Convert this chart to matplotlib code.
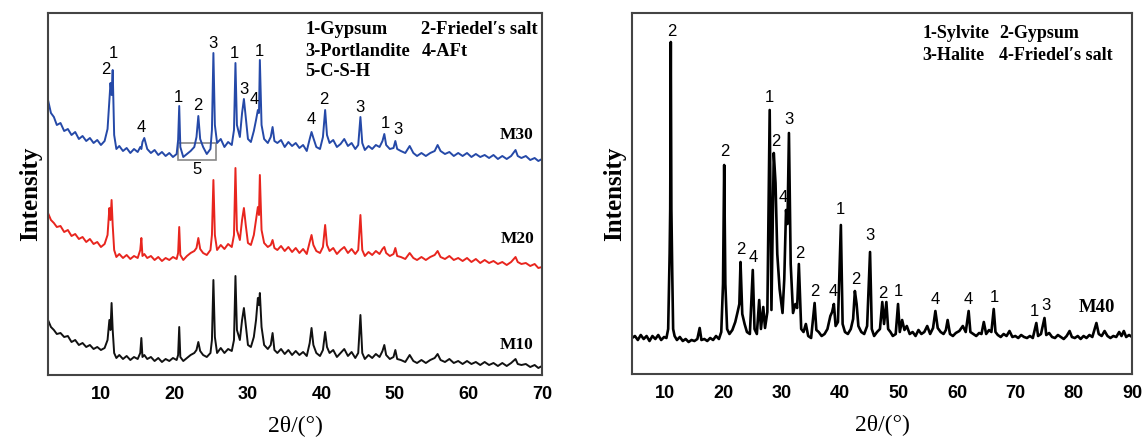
import matplotlib
matplotlib.use("Agg")
import matplotlib.pyplot as plt
from matplotlib.patches import Rectangle

# ---------------- data: left panel (M10, M20, M30) ----------------
two_theta_left = [
    2.8, 3.2, 3.6, 4.0, 4.5, 5.0, 5.5, 6.0, 6.5, 7.0,
    7.5, 8.0, 8.5, 9.0, 9.5, 10.0, 10.5, 10.9, 11.15, 11.3,
    11.45, 11.6, 11.8, 12.1, 12.5, 13.0, 13.5, 14.0, 14.5, 15.0,
    15.35, 15.5, 15.65, 15.9, 16.3, 16.8, 17.3, 17.8, 18.3, 18.8,
    19.3, 19.8, 20.3, 20.5, 20.65, 20.8, 21.2, 21.7, 22.2, 22.7,
    23.0, 23.25, 23.5, 23.9, 24.4, 24.9, 25.1, 25.3, 25.5, 25.8,
    26.3, 26.8, 27.3, 27.8, 28.1, 28.3, 28.5, 28.9, 29.2, 29.45,
    29.7, 30.0, 30.4, 30.8, 31.1, 31.35, 31.5, 31.62, 31.85, 32.2,
    32.7, 33.1, 33.35, 33.6, 34.0, 34.5, 35.0, 35.5, 36.0, 36.5,
    37.0, 37.5, 38.0, 38.4, 38.65, 38.9, 39.3, 39.8, 40.2, 40.5,
    40.75, 41.1, 41.6, 42.1, 42.6, 43.1, 43.6, 44.1, 44.6, 45.0,
    45.3, 45.55, 45.9, 46.4, 46.9, 47.4, 47.9, 48.3, 48.55, 48.8,
    49.3, 49.8, 50.05, 50.3, 50.8, 51.4, 52.0, 52.5, 53.0, 53.6,
    54.2, 54.8, 55.4, 55.8, 56.2, 56.8, 57.4, 58.0, 58.6, 59.2,
    59.8, 60.4, 61.0, 61.6, 62.2, 62.8, 63.4, 64.0, 64.6, 65.2,
    65.8, 66.4, 66.7, 67.2, 67.8, 68.4, 69.0, 69.5, 70.0,
]

m30 = [
    275, 262, 258, 250, 252, 244, 246, 240, 243, 236,
    239, 234, 237, 232, 235, 230, 234, 246, 275, 292,
    280, 305, 240, 226, 229, 224, 227, 222, 226, 223,
    228, 226, 233, 237, 226, 222, 225, 220, 223, 219,
    222, 218, 221, 235, 269, 228, 218, 221, 224, 228,
    238, 259, 236, 228, 221, 226, 245, 322, 250, 232,
    236, 228, 233, 230, 245, 312, 250, 238, 262, 276,
    258, 236, 233, 244, 255, 265, 262, 315, 250, 236,
    232, 238, 248, 234, 232, 235, 228, 233, 229, 232,
    227, 230, 224, 236, 243, 237, 228, 226, 238, 265,
    240, 232, 235, 228, 231, 236, 229, 232, 226, 230,
    258, 232, 225, 229, 226, 230, 228, 234, 241, 230,
    226, 227, 234, 226, 224, 222, 229, 222, 219, 222,
    219, 222, 224, 230, 224, 221, 223, 219, 222, 219,
    222, 218, 221, 218, 220, 217, 220, 216, 219, 216,
    219, 225, 219, 217, 219, 215, 217, 214, 216,
]

m20 = [
    162, 155, 152, 148, 149, 143, 145, 139, 141, 136,
    138, 133, 136, 131, 133, 128, 131, 140, 167, 155,
    175, 150, 125, 118, 121, 117, 120, 116, 119, 117,
    125, 137, 119, 121, 117, 119, 115, 118, 114, 117,
    115, 118, 116, 122, 148, 120, 115, 119, 122, 124,
    127, 137, 126, 122, 120, 125, 140, 195, 140, 125,
    130, 126, 131, 128, 140, 207, 145, 135, 155, 167,
    150, 132, 130, 140, 155, 168, 160, 200, 145, 132,
    128, 130, 135, 127, 125, 129, 124, 128, 123, 127,
    122, 126, 121, 133, 140, 130, 124, 122, 128, 150,
    130, 124, 127, 121, 125, 128, 122, 126, 121, 125,
    160, 125, 119, 123, 120, 124, 121, 126, 128, 122,
    119, 121, 127, 119, 118, 116, 122, 117, 115, 118,
    115, 118, 120, 124, 118, 116, 119, 115, 117, 114,
    117, 113, 116, 112, 115, 112, 114, 111, 113, 110,
    113, 118, 113, 111, 112, 109, 111, 107, 108,
]

m10 = [
    55, 48, 45, 41, 42, 38, 39, 33, 35, 30,
    32, 28, 30, 26, 28, 25, 27, 35, 55, 45,
    72, 45, 22, 17, 20, 16, 19, 15, 18, 16,
    22, 37, 18, 20, 16, 18, 14, 17, 13, 16,
    14, 17, 15, 20, 48, 18, 14, 17, 20, 22,
    25, 33, 24, 20, 18, 22, 35, 95, 38, 22,
    27, 22, 26, 24, 35, 99, 45, 35, 55, 67,
    50, 30, 28, 38, 55, 77, 70, 82, 48, 30,
    26, 30, 42, 25, 22, 26, 21, 25, 20, 24,
    20, 23, 19, 32, 47, 30, 22, 19, 25, 43,
    28, 22, 25, 18, 22, 26, 19, 23, 17, 22,
    60, 22, 16, 20, 17, 21, 18, 24, 30, 20,
    16, 18, 25, 16, 15, 13, 20, 14, 12, 15,
    12, 15, 17, 21, 15, 13, 16, 12, 14, 11,
    14, 11, 13, 10, 13, 10, 12, 9, 12, 9,
    12, 16, 11, 10, 11, 8, 10, 7, 9,
]

# ---------------- data: right panel (M40) ----------------
two_theta_right = [
    4.3, 4.8, 5.3, 5.8, 6.3, 6.8, 7.3, 7.8, 8.3, 8.8,
    9.3, 9.8, 10.2, 10.5, 10.75, 10.85, 10.95, 11.05, 11.2, 11.35,
    11.6, 12.0, 12.5, 13.0, 13.5, 14.0, 14.5, 15.0, 15.5, 15.9,
    16.2, 16.7, 17.2, 17.7, 18.2, 18.7, 19.2, 19.6, 19.9, 20.1,
    20.3, 20.6, 21.0, 21.5, 22.0, 22.4, 22.7, 22.9, 23.2, 23.6,
    24.0, 24.5, 25.0, 25.3, 25.7, 26.1, 26.4, 26.8, 27.1, 27.5,
    27.9, 28.2, 28.6, 28.9, 29.2, 29.6, 30.1, 30.4, 30.7, 30.95,
    31.2, 31.5, 31.9, 32.3, 32.6, 32.9, 33.3, 33.7, 34.1, 34.5,
    35.0, 35.6, 35.9, 36.3, 36.8, 37.3, 37.8, 38.3, 38.6, 38.9,
    39.2, 39.6, 40.1, 40.4, 40.8, 41.3, 41.8, 42.2, 42.5, 42.8,
    43.1, 43.6, 44.1, 44.6, 45.1, 45.4, 45.8, 46.3, 46.8, 47.2,
    47.5, 47.9, 48.2, 48.6, 49.0, 49.5, 49.9, 50.2, 50.6, 51.0,
    51.4, 51.9, 52.4, 52.9, 53.4, 53.9, 54.4, 54.9, 55.4, 55.9,
    56.3, 56.7, 57.2, 57.7, 58.1, 58.4, 58.8, 59.3, 59.8, 60.4,
    61.0, 61.5, 62.0, 62.3, 62.8, 63.3, 63.8, 64.2, 64.6, 65.0,
    65.5, 65.9, 66.3, 66.6, 67.0, 67.5, 68.0, 68.5, 69.0, 69.5,
    70.0, 70.5, 71.0, 71.5, 72.0, 72.5, 73.0, 73.6, 73.9, 74.4,
    75.0, 75.3, 75.8, 76.3, 76.8, 77.3, 77.8, 78.3, 78.8, 79.3,
    79.7, 80.2, 80.7, 81.2, 81.7, 82.2, 82.7, 83.2, 83.6, 83.9,
    84.3, 84.8, 85.3, 85.8, 86.3, 86.8, 87.3, 87.8, 88.2, 88.6,
    89.0, 89.5, 90.0,
]

m40 = [
    36, 38, 34, 39, 35, 38, 33, 38, 35, 39,
    34, 37, 36, 45, 120, 165, 332, 165, 100, 45,
    38, 34, 37, 33, 35, 32, 34, 33, 35, 46,
    34, 35, 33, 36, 34, 38, 35, 42, 90, 209,
    90, 45, 40, 44, 52, 62, 70, 112, 60, 50,
    42, 40, 104, 45, 40, 74, 45, 67, 46, 62,
    264, 64, 221, 191, 120, 85, 61, 95, 164, 150,
    241, 110, 61, 70, 66, 110, 45, 42, 50, 38,
    36, 71, 44, 42, 38, 40, 45, 58, 62, 70,
    48, 52, 149, 50, 42, 40, 45, 55, 83, 70,
    48, 42, 40, 48, 122, 45, 38, 42, 45, 72,
    50, 72, 45, 42, 38, 40, 70, 42, 54, 44,
    48, 40, 42, 38, 44, 40, 42, 48, 40, 46,
    63, 46, 42, 40, 44, 54, 40, 38, 41, 43,
    48, 42, 63, 42, 40, 38, 41, 40, 52, 40,
    44, 42, 65, 42, 39, 37, 40, 38, 43, 37,
    38, 36, 39, 37, 36, 38, 36, 51, 38, 40,
    56, 39, 41, 37, 36, 39, 37, 35, 38, 43,
    37, 36, 38, 35, 38, 36, 39, 37, 45, 51,
    40, 38, 43, 38, 36, 38, 37, 42, 38, 43,
    37, 39, 37,
]

x_ticks_left = [10, 20, 30, 40, 50, 60, 70]
x_ticks_right = [10, 20, 30, 40, 50, 60, 70, 80, 90]

# peak labels (text, 2theta, height)
left_peak_labels = [
    ("2", 10.6, 305), ("1", 11.66, 322), ("4", 15.55, 248), ("1", 20.54, 278),
    ("2", 23.2, 270), ("3", 25.23, 332), ("1", 28.1, 322), ("3", 29.4, 286),
    ("4", 30.83, 276), ("1", 31.58, 324), ("4", 38.64, 256), ("2", 40.36, 276),
    ("3", 45.3, 267), ("1", 48.73, 251), ("3", 50.44, 246), ("5", 23.11, 205),
]
right_peak_labels = [
    ("2", 11.07, 342), ("2", 20.26, 222), ("2", 22.9, 125), ("4", 25.0, 116),
    ("1", 27.8, 276), ("2", 28.9, 232), ("3", 31.2, 254), ("4", 30.2, 176),
    ("2", 33.0, 121), ("2", 35.7, 82), ("4", 38.8, 82), ("1", 40.1, 165),
    ("2", 42.7, 95), ("3", 45.1, 139), ("2", 47.3, 81), ("1", 49.9, 82),
    ("4", 56.2, 74), ("4", 61.9, 75), ("1", 66.4, 76), ("1", 73.3, 62),
    ("3", 75.2, 69),
]
left_samples = [("M30", 66.5, 240), ("M20", 66.7, 136), ("M10", 66.5, 30)]
right_samples = [("M40", 83.9, 67)]
left_legend = [("1-Gypsum", 37.8, 345), ("2-Friedel\u2032s salt", 53.6, 345),
               ("3-Portlandite", 37.8, 324), ("4-AFt", 53.6, 324),
               ("5-C-S-H", 37.8, 304)]
right_legend = [("1-Sylvite", 54.1, 341), ("2-Gypsum", 67.2, 341),
                ("3-Halite", 54.1, 319), ("4-Friedel\u2032s salt", 67.2, 319)]

# ---------------- figure ----------------
fig = plt.figure(figsize=(11.43, 4.38), dpi=100)
axL = fig.add_axes([48 / 1143, 1 - 375 / 438, (542 - 48) / 1143, (375 - 13) / 438])
axR = fig.add_axes([632 / 1143, 1 - 374 / 438, (1132 - 632) / 1143, (374 - 13) / 438])

serif = ["Liberation Serif", "DejaVu Serif"]
sans = ["Liberation Sans", "DejaVu Sans"]

axL.plot(two_theta_left, m30, color="#2549a8", lw=1.4)
axL.plot(two_theta_left, m20, color="#e8251e", lw=1.4)
axL.plot(two_theta_left, m10, color="#111111", lw=1.4)
axR.plot(two_theta_right, m40, color="#000000", lw=1.9)

axL.set_xlim(2.8, 70)
axL.set_ylim(0, 362)
axR.set_xlim(4.3, 90)
axR.set_ylim(0, 361)

for ax, ticks in ((axL, x_ticks_left), (axR, x_ticks_right)):
    ax.set_xticks(ticks)
    ax.set_xticklabels([str(t) for t in ticks], fontfamily=sans,
                       fontweight="bold", fontsize=13)
    ax.tick_params(axis="x", length=0, pad=8)
    ax.set_yticks([])
    for s in ax.spines.values():
        s.set_color("#444444")
        s.set_linewidth(1.5)
    ax.set_xlabel("2\u03b8/(\u00b0)", fontfamily=serif, fontsize=17, labelpad=9)
    ax.set_ylabel("Intensity", fontfamily=serif, fontweight="bold",
                  fontsize=18, labelpad=4)

for t, x, y in left_peak_labels:
    axL.text(x, y, t, ha="center", va="center", fontfamily=sans, fontsize=12)
for t, x, y in right_peak_labels:
    axR.text(x, y, t, ha="center", va="center", fontfamily=sans, fontsize=12)
for t, x, y in left_samples:
    axL.text(x, y, t, ha="center", va="center", fontfamily=serif,
             fontweight="bold", fontsize=12.5)
for t, x, y in right_samples:
    axR.text(x, y, t, ha="center", va="center", fontfamily=serif,
             fontweight="bold", fontsize=13.5)
for t, x, y in left_legend:
    axL.text(x, y, t, ha="left", va="center", fontfamily=serif,
             fontweight="bold", fontsize=13.3)
for t, x, y in right_legend:
    axR.text(x, y, t, ha="left", va="center", fontfamily=serif,
             fontweight="bold", fontsize=13)

# C-S-H box
axL.add_patch(Rectangle((20.44, 215), 25.68 - 20.44, 232 - 215, fill=False,
                        edgecolor="#888888", lw=1.2))

fig.savefig("out.png", dpi=100)
